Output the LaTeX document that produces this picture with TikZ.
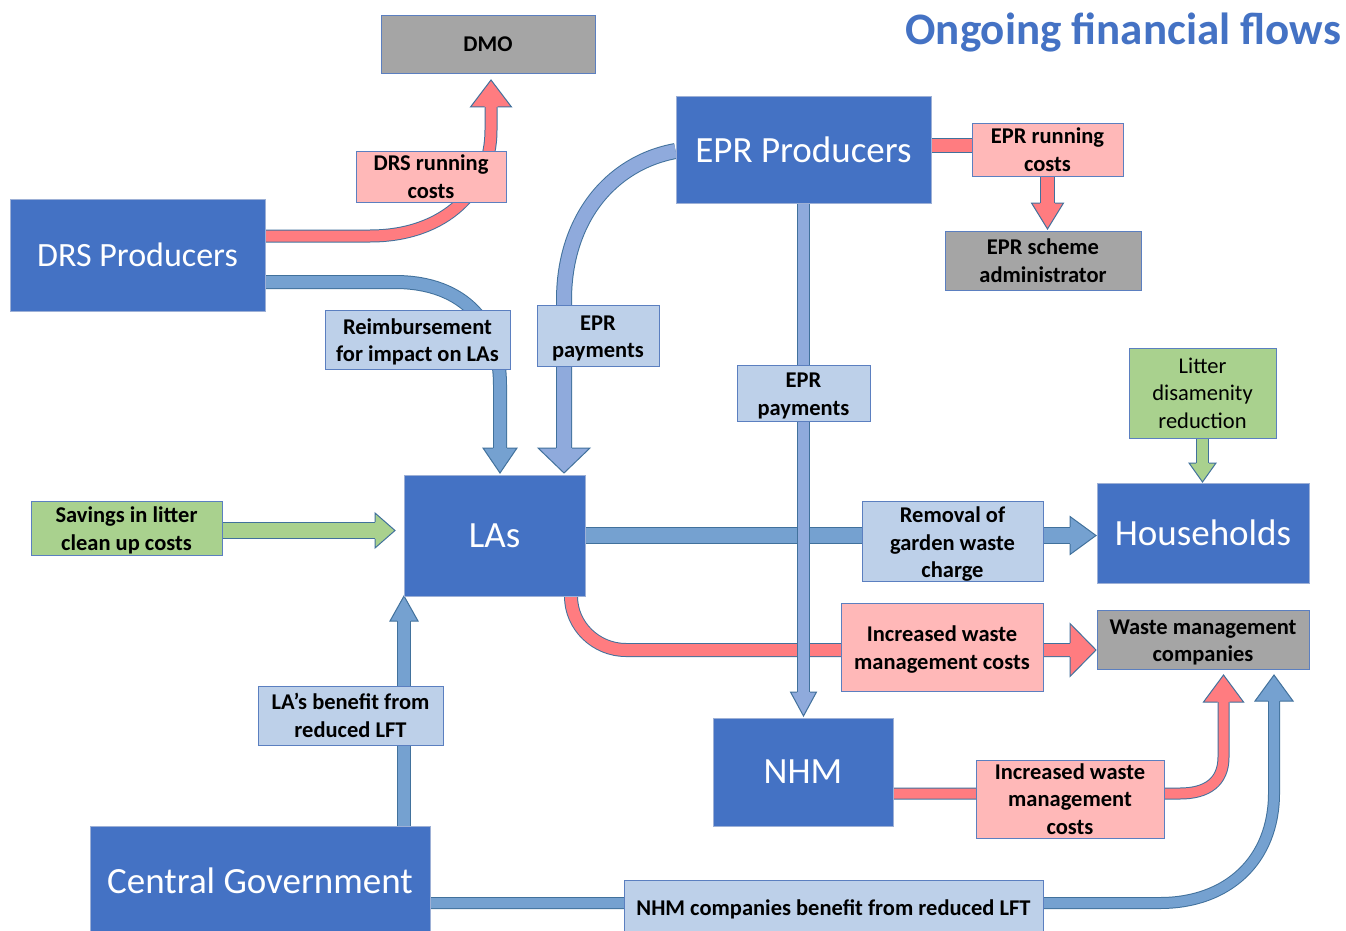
\documentclass[tikz,border=0pt]{standalone}
\usepackage{fontspec}
\setmainfont{Carlito}
\usetikzlibrary{calc}
\definecolor{mainblue}{HTML}{4472C4}
\definecolor{mainborder}{HTML}{9DB0D6}
\definecolor{lblfill}{HTML}{BDD0E9}
\definecolor{lblborder}{HTML}{5B7FC0}
\definecolor{pinkfill}{HTML}{FFB8B8}
\definecolor{grayfill}{HTML}{A5A5A5}
\definecolor{greenbox}{HTML}{A9D18E}
\definecolor{redfill}{HTML}{FF7C80}
\definecolor{bluefill}{HTML}{75A1D0}
\definecolor{lbfill}{HTML}{8FAADC}
\definecolor{greenfill}{HTML}{A9D18E}
\definecolor{arrowborder}{HTML}{41719C}
\pgfdeclarelayer{back}
\pgfdeclarelayer{bg}
\pgfsetlayers{back,bg,main}
% strut that lowers a multi-line label a little
\newcommand{\tup}{\rule{0pt}{21pt}}
% block arrow head: #1 fill, #2 tip coordinate name, #3 angle, #4 half width, #5 length, #6 half shaft width
\newcommand{\bhead}[6]{%
  \begin{scope}[shift={(#2)}, rotate=#3]
    \fill[#1] (0,0) -- (-#5,#4) -- (-#5,-#4) -- cycle;
    \draw[arrowborder, line width=1pt, line join=miter] (-#5,#6) -- (-#5,#4) -- (0,0) -- (-#5,-#4) -- (-#5,-#6);
  \end{scope}}
\begin{document}
\begin{tikzpicture}[x=1pt,y=-1pt,
  sz/.style 2 args={minimum width=#1pt, minimum height=#2pt},
  mainbox/.style={rectangle, draw=mainborder, fill=mainblue, text=white, inner sep=0pt, line width=0.8pt,
    font=\fontsize{37}{44}\selectfont},
  lbl/.style={rectangle, inner sep=0pt, align=center, line width=0.8pt,
    font=\fontsize{22.5}{27.5}\selectfont\bfseries},
  bluelbl/.style={lbl, fill=lblfill, draw=lblborder},
  pinklbl/.style={lbl, fill=pinkfill, draw=lblborder},
  graylbl/.style={lbl, fill=grayfill, draw=lblborder},
  greenlbl/.style={lbl, fill=greenbox, draw=lblborder},
  flow/.style 2 args={draw=arrowborder, line width=1pt, double=#1, double distance=#2pt}
]
\path[use as bounding box] (0,0) rectangle (1346,931);
\begin{pgfonlayer}{back}
\fill[white] (0,0) rectangle (1346,931);
\end{pgfonlayer}

% title
\node[anchor=base east, text=mainblue, font=\fontsize{45}{54}\selectfont\bfseries, inner sep=0pt] (title) at (1341,45) {Ongoing financial flows};

% nodes
\node[graylbl, sz={214}{58}] (dmo) at (488,44) {DMO};
\node[mainbox, sz={255}{107}] (epr) at (803.5,149.5) {EPR Producers};
\node[pinklbl, sz={151}{53}] (eprrc) at (1047.5,149.5) {EPR running\\costs};
\node[graylbl, sz={196}{59}] (eprsa) at (1043,260.5) {EPR scheme\\administrator};
\node[mainbox, font=\fontsize{34}{40}\selectfont, sz={255}{112}] (drs) at (137.5,255) {DRS Producers};
\node[pinklbl, sz={150}{51}] (drsrc) at (431,176.5) {DRS running\\costs};
\node[bluelbl, sz={185}{59}] (reimb) at (417.5,339.5) {\tup Reimbursement\\for impact on LAs};
\node[bluelbl, sz={122}{61}] (eprp1) at (598,335.5) {\tup EPR\\payments};
\node[bluelbl, sz={133}{56}] (eprp2) at (803.5,393) {\tup EPR\\payments};
\node[greenlbl, font=\fontsize{22.5}{27.5}\selectfont, sz={147}{90}] (litter) at (1202.5,393) {Litter\\disamenity\\reduction};
\node[mainbox, sz={212}{100}] (hh) at (1203,533) {Households};
\node[greenlbl, sz={191}{54}] (savings) at (126.5,528) {\tup Savings in litter\\clean up costs};
\node[mainbox, sz={181}{121}] (las) at (494.5,535.5) {LAs};
\node[bluelbl, sz={181}{79}] (removal) at (952.5,541.5) {\tup Removal of\\garden waste\\charge};
\node[pinklbl, sz={202}{88}] (iwmc1) at (942,647) {\tup Increased waste\\management costs};
\node[graylbl, sz={212}{59}] (wmc) at (1203,639.5) {\tup Waste management\\companies};
\node[bluelbl, sz={185}{59}] (labenefit) at (350.5,715.5) {LA’s benefit from\\reduced LFT};
\node[mainbox, sz={180}{108}] (nhm) at (803,772) {NHM};
\node[pinklbl, sz={188}{78}] (iwmc2) at (1070,799) {Increased waste\\management\\costs};
\node[mainbox, sz={340}{110}] (cg) at (260,881) {Central Government};
\node[bluelbl, sz={419}{58}] (nhmc) at (833.5,909) {NHM companies benefit from reduced LFT};

% head tip coordinates
\coordinate (h1) at (491,80);
\coordinate (h2) at (500,473);
\coordinate (h3) at (564,473);
\coordinate (h4) at (803.5,716);
\coordinate (h5) at (1047.5,229);
\coordinate (h6) at (1202.5,482);
\coordinate (h7) at (395,530.5);
\coordinate (h8) at (1096,535.5);
\coordinate (h9) at (1096,650);
\coordinate (h10) at (404,596);
\coordinate (h11) at (1223.5,675);
\coordinate (h12) at (1274,675);

\begin{pgfonlayer}{bg}
% DRS -> DMO
\draw[flow={redfill}{11}] (drs.east |- 0,236) -- (370,236) .. controls (445,236) and (491,190) .. (491,130) -- (491,105);
\bhead{redfill}{h1}{90}{20.5}{27}{6.5}
% DRS -> LAs
\draw[flow={bluefill}{12}] (drs.east |- 0,282) -- (395,282) .. controls (465,282) and (500,325) .. (500,385) -- (500,450);
\bhead{bluefill}{h2}{-90}{17}{25}{7}
% EPR -> LAs
\draw[flow={lbfill}{14}] (epr.west |- 0,151) .. controls (610,163) and (564,220) .. (564,300) -- (564,450);
\bhead{lbfill}{h3}{-90}{26}{25}{8}
% EPR -> running costs -> scheme administrator
\draw[flow={redfill}{13}] (epr.east |- 0,145.5) -- (eprrc.west |- 0,145.5);
\draw[flow={redfill}{13}] (eprrc.south) -- (1047.5,205);
\bhead{redfill}{h5}{-90}{16}{26}{7.5}
% Litter -> Households
\draw[flow={greenfill}{11}] (litter.south) -- (1202.5,465);
\bhead{greenfill}{h6}{-90}{13.5}{19}{6.5}
% Savings -> LAs
\draw[flow={greenfill}{15}] (savings.east |- 0,530.5) -- (377,530.5);
\bhead{greenfill}{h7}{0}{17.5}{20}{8.5}
% LAs -> Households
\draw[flow={bluefill}{15}] (las.east |- 0,535.5) -- (1072,535.5);
\bhead{bluefill}{h8}{0}{19}{26}{8.5}
% LAs -> Waste management companies
\draw[flow={redfill}{12}] (las.south -| 571,0) .. controls (571,626) and (596,650) .. (626,650) -- (1072,650);
\bhead{redfill}{h9}{0}{26.5}{26}{7}
% EPR -> NHM
\draw[flow={lbfill}{11}] (epr.south) -- (803.5,694);
\bhead{lbfill}{h4}{-90}{13}{24}{6.5}
% CG -> LAs
\draw[flow={bluefill}{12}] (cg.north -| 404,0) -- (404,619);
\bhead{bluefill}{h10}{90}{14}{25}{7}
% NHM -> WMC
\draw[flow={redfill}{10}] (nhm.east |- 0,793.5) -- (1180,793.5) .. controls (1207,793.5) and (1223.5,782) .. (1223.5,757) -- (1223.5,700);
\bhead{redfill}{h11}{90}{20}{27}{6}
% CG -> WMC
\draw[flow={bluefill}{10}] (cg.east |- 0,903) -- (1160,903) .. controls (1228,903) and (1274,860) .. (1274,793) -- (1274,699);
\bhead{bluefill}{h12}{90}{19}{26}{6}
\end{pgfonlayer}
\end{tikzpicture}
\end{document}
